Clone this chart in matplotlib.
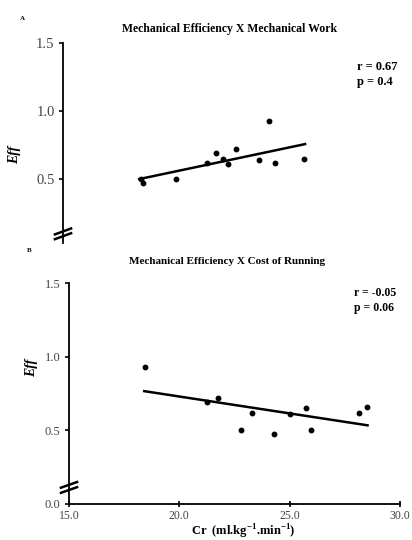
import matplotlib
matplotlib.use("Agg")
import matplotlib.pyplot as plt

plt.rcParams["font.family"] = ["Liberation Serif", "DejaVu Serif"]
plt.rcParams["mathtext.fontset"] = "custom"
plt.rcParams["mathtext.rm"] = "Liberation Serif:bold"
plt.rcParams["mathtext.bf"] = "Liberation Serif:bold"

# panel A: mechanical efficiency vs mechanical work (x axis not shown)
work_x = [18.54, 18.64, 20.12, 21.51, 21.94, 22.27, 22.48, 22.84, 23.87, 24.34, 24.62, 25.91]
work_eff = [0.50, 0.47, 0.50, 0.615, 0.69, 0.65, 0.61, 0.72, 0.64, 0.93, 0.615, 0.65]
work_fit_x = [18.46, 25.97]
work_fit_y = [0.50, 0.757]

# panel B: mechanical efficiency vs cost of running
cr_x = [18.44, 21.25, 21.75, 22.81, 23.28, 24.29, 25.01, 25.75, 25.97, 28.13, 28.49]
cr_eff = [0.93, 0.69, 0.72, 0.50, 0.615, 0.475, 0.61, 0.65, 0.50, 0.615, 0.655]
cr_fit_x = [18.41, 28.53]
cr_fit_y = [0.766, 0.534]

y_ticks = [0.5, 1.0, 1.5]
x_ticks = [15.0, 20.0, 25.0, 30.0]

W, H = 412, 540
fig = plt.figure(figsize=(W / 100, H / 100), dpi=100)


def px_axes(left, top, right, bottom):
    return fig.add_axes([left / W, 1 - bottom / H, (right - left) / W, (bottom - top) / H])


def break_marks(ax, yval, dy):
    trans = ax.get_yaxis_transform()
    for off in (-0.035, 0.0):
        ax.plot([-0.028, 0.028], [yval + off - dy, yval + off + dy], color="black",
                lw=1.8, transform=trans, clip_on=False, solid_capstyle="butt")


# ---- panel A
axA = px_axes(63, 43, 394, 243)
axA.plot(work_x, work_eff, "o", color="black", markersize=3.2)
axA.plot(work_fit_x, work_fit_y, color="black", lw=1.8)
axA.set_xlim(15, 30)
axA.set_ylim(0.03, 1.5)
for s in ("top", "right", "bottom"):
    axA.spines[s].set_visible(False)
axA.spines["left"].set_linewidth(1.3)
axA.set_xticks([])
axA.set_yticks(y_ticks)
axA.set_yticklabels(["%.1f" % v for v in y_ticks], color="#444444", fontsize=10.5)
axA.tick_params(axis="y", length=3, width=1.2, pad=3)
break_marks(axA, 0.115, 0.025)

fig.text(20 / W, 1 - 19 / H, "A", fontsize=5, fontweight="bold", ha="left", va="center")
fig.text(230 / W, 1 - 29 / H, "Mechanical Efficiency X Mechanical Work",
         fontsize=8.5, fontweight="bold", ha="center", va="center")
fig.text(357 / W, 1 - 67 / H, "r = 0.67", fontsize=9, fontweight="bold", ha="left", va="center")
fig.text(357 / W, 1 - 82 / H, "p = 0.4", fontsize=9, fontweight="bold", ha="left", va="center")
fig.text(15 / W, 1 - 155 / H, "Eff", fontsize=10, fontweight="bold", style="italic",
         rotation=90, ha="center", va="center")

# ---- panel B
axB = px_axes(69, 283, 400, 504)
axB.plot(cr_x, cr_eff, "o", color="black", markersize=3.2)
axB.plot(cr_fit_x, cr_fit_y, color="black", lw=1.8)
axB.set_xlim(15, 30)
axB.set_ylim(0, 1.5)
for s in ("top", "right"):
    axB.spines[s].set_visible(False)
axB.spines["left"].set_linewidth(1.3)
axB.spines["bottom"].set_linewidth(1.3)
axB.set_yticks([0.0] + y_ticks)
axB.set_yticklabels(["%.1f" % v for v in [0.0] + y_ticks], color="#444444", fontsize=9)
axB.set_xticks(x_ticks)
axB.set_xticklabels(["%.1f" % v for v in x_ticks], color="#444444", fontsize=8.5)
axB.tick_params(axis="y", length=3, width=1.2, pad=3)
axB.tick_params(axis="x", length=4, width=1.2, direction="inout", pad=2)
break_marks(axB, 0.13, 0.022)

fig.text(243 / W, 1 - 532 / H, r"Cr  (ml.kg$^{-1}$.min$^{-1}$)", fontsize=9,
         fontweight="bold", ha="center", va="center")
fig.text(27 / W, 1 - 250 / H, "B", fontsize=5, fontweight="bold", ha="left", va="center")
fig.text(227 / W, 1 - 262 / H, "Mechanical Efficiency X Cost of Running",
         fontsize=8, fontweight="bold", ha="center", va="center")
fig.text(354 / W, 1 - 293 / H, "r = -0.05", fontsize=8.5, fontweight="bold", ha="left", va="center")
fig.text(354 / W, 1 - 308 / H, "p = 0.06", fontsize=8.5, fontweight="bold", ha="left", va="center")
fig.text(32 / W, 1 - 368 / H, "Eff", fontsize=10, fontweight="bold", style="italic",
         rotation=90, ha="center", va="center")

fig.savefig("out.png", dpi=100)
